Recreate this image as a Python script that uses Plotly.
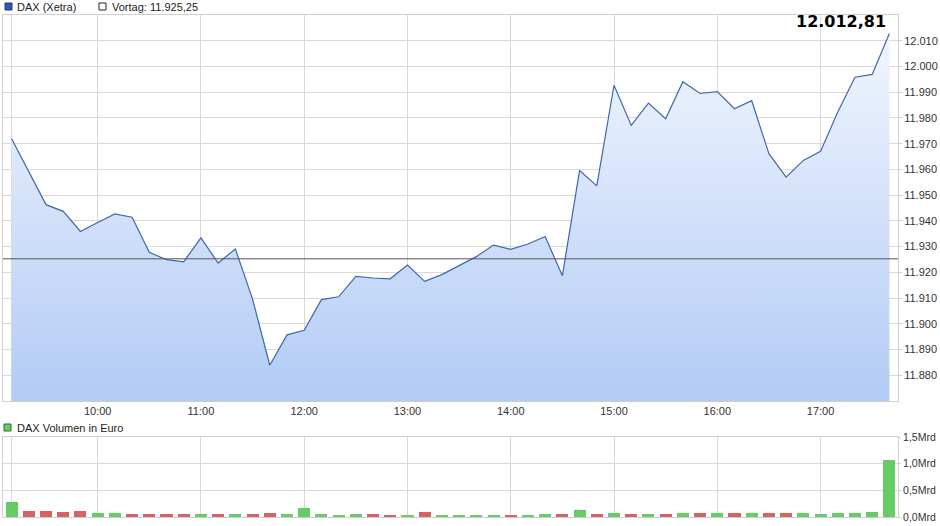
import plotly.graph_objects as go

DAY = "2019-07-03"
TIMES = ["09:10", "09:20", "09:30", "09:40", "09:50", "10:00", "10:10", "10:20", "10:30", "10:40",
         "10:50", "11:00", "11:10", "11:20", "11:30", "11:40", "11:50", "12:00", "12:10", "12:20",
         "12:30", "12:40", "12:50", "13:00", "13:10", "13:20", "13:30", "13:40", "13:50", "14:00",
         "14:10", "14:20", "14:30", "14:40", "14:50", "15:00", "15:10", "15:20", "15:30", "15:40",
         "15:50", "16:00", "16:10", "16:20", "16:30", "16:40", "16:50", "17:00", "17:10", "17:20",
         "17:30", "17:40"]
PRICE = [11971.9, 11958.8, 11946.3, 11943.7, 11935.9, 11939.4, 11942.7, 11941.4, 11927.8, 11924.9,
         11924.1, 11933.4, 11923.6, 11929.1, 11909.6, 11883.9, 11895.7, 11897.5, 11909.4, 11910.5,
         11918.4, 11917.8, 11917.5, 11922.8, 11916.5, 11919.1, 11922.6, 11926.1, 11930.6, 11928.9,
         11931.0, 11933.9, 11918.7, 11959.6, 11953.6, 11992.7, 11977.1, 11985.8, 11979.7, 11994.1,
         11989.5, 11990.2, 11983.6, 11986.7, 11966.1, 11957.0, 11963.5, 11967.0, 11982.3, 11995.8,
         11996.9, 12012.81]
VOLUME_MRD = [0.28, 0.107, 0.107, 0.088, 0.107, 0.069, 0.069, 0.05, 0.05, 0.05,
              0.05, 0.05, 0.05, 0.05, 0.05, 0.069, 0.05, 0.16, 0.05, 0.03,
              0.05, 0.05, 0.03, 0.03, 0.088, 0.03, 0.03, 0.03, 0.03, 0.025,
              0.025, 0.05, 0.055, 0.13, 0.05, 0.07, 0.05, 0.05, 0.05, 0.07,
              0.07, 0.07, 0.07, 0.07, 0.07, 0.07, 0.07, 0.05, 0.07, 0.07,
              0.09, 1.07]
VORTAG = 11925.25
X_TICK_TIMES = ["09:10", "10:00", "11:00", "12:00", "13:00", "14:00", "15:00", "16:00", "17:00"]
X_TICK_TEXT = ["", "10:00", "11:00", "12:00", "13:00", "14:00", "15:00", "16:00", "17:00"]
Y_TICKS = [11880, 11890, 11900, 11910, 11920, 11930, 11940, 11950, 11960, 11970,
           11980, 11990, 12000, 12010]
VOL_TICKS = [0.0, 0.5, 1.0, 1.5]
VOL_TICK_TEXT = ["0,0Mrd", "0,5Mrd", "1,0Mrd", "1,5Mrd"]

x = [f"{DAY} {t}" for t in TIMES]
prev = [VORTAG] + PRICE[:-1]
bar_colors = ["#66cc66" if p >= q else "#d46464" for p, q in zip(PRICE, prev)]


def de(v, nd=2):
    s = f"{v:,.{nd}f}"
    return s.replace(",", "X").replace(".", ",").replace("X", ".")


W, H = 940, 526
ML, MR, MT, MB = 3, 42, 15, 9
PW, PH = W - ML - MR, H - MT - MB


def px(xp):
    return (xp - ML) / PW


def py(yp):
    return (H - MB - yp) / PH


FONT = "Liberation Sans, Arial, sans-serif"
GRID = "#d9d9d9"
BORDER = "#cfcfcf"

fig = go.Figure()
fig.add_trace(go.Scatter(
    x=x, y=PRICE, mode="lines", xaxis="x", yaxis="y",
    line=dict(color="#3f66ad", width=1.2),
    fill="tozeroy",
    fillgradient=dict(type="vertical", start=11870, stop=12020,
                      colorscale=[[0, "#b2cbf5"], [1, "#f4f8fe"]]),
    hoverinfo="skip", showlegend=False,
))
fig.add_trace(go.Bar(
    x=x, y=VOLUME_MRD, xaxis="x2", yaxis="y2",
    marker=dict(color=bar_colors, line=dict(width=0)),
    width=7 * 60 * 1000, hoverinfo="skip", showlegend=False,
))

fig.add_shape(type="line", xref="x domain", yref="y", x0=0, x1=1, y0=VORTAG, y1=VORTAG,
              line=dict(color="#555555", width=1), layer="above")

axis_common = dict(showgrid=True, gridcolor=GRID, gridwidth=1, zeroline=False,
                   showline=True, mirror=True, linecolor=BORDER, linewidth=1)
tick_font = dict(family=FONT, size=11, color="#333333")

fig.update_layout(
    width=W, height=H,
    margin=dict(l=ML, r=MR, t=MT, b=MB, autoexpand=False),
    paper_bgcolor="white", plot_bgcolor="white",
    separators=",.",
    font=dict(family=FONT, size=11, color="#333333"),
    xaxis=dict(domain=[0, 1], anchor="y", type="date",
               range=[f"{DAY} 09:05", f"{DAY} 17:45"],
               tickvals=[f"{DAY} {t}" for t in X_TICK_TIMES], ticktext=X_TICK_TEXT,
               ticks="", tickfont=tick_font, **axis_common),
    yaxis=dict(domain=[py(401), 1], anchor="x", side="right", range=[11870, 12020],
               tickvals=Y_TICKS, tickformat=",d", ticks="outside", ticklen=3,
               tickcolor=BORDER, tickfont=tick_font, **axis_common),
    xaxis2=dict(domain=[0, 1], anchor="y2", type="date", matches="x",
                tickvals=[f"{DAY} {t}" for t in X_TICK_TIMES], ticktext=X_TICK_TEXT,
                showticklabels=False, ticks="", **axis_common),
    yaxis2=dict(domain=[0, py(437)], anchor="x2", side="right", range=[0, 1.5],
                tickvals=VOL_TICKS, ticktext=VOL_TICK_TEXT,
                ticks="outside", ticklen=2, tickcolor=BORDER,
                tickfont=dict(family=FONT, size=10.5, color="#333333"), **axis_common),
    bargap=0,
)

shapes = [
    dict(type="rect", xref="paper", yref="paper", x0=px(5), x1=px(12), y0=py(10), y1=py(3),
         fillcolor="#2b5bab", line=dict(color="#1d3d78", width=1)),
    dict(type="rect", xref="paper", yref="paper", x0=px(99), x1=px(106), y0=py(10), y1=py(3),
         fillcolor="white", line=dict(color="#222222", width=1)),
    dict(type="rect", xref="paper", yref="paper", x0=px(4), x1=px(11), y0=py(431), y1=py(424),
         fillcolor="#66cc66", line=dict(color="#2c6a2c", width=1)),
]
for s in shapes:
    fig.add_shape(**s)

ann = [
    dict(text="DAX (Xetra)", x=px(15), y=py(7)),
    dict(text=f"Vortag: {de(VORTAG)}", x=px(110), y=py(7)),
    dict(text="DAX Volumen in Euro", x=px(15), y=py(428)),
]
for a in ann:
    fig.add_annotation(xref="paper", yref="paper", xanchor="left", yanchor="middle",
                       showarrow=False, font=dict(family=FONT, size=11, color="#222222"), **a)

fig.add_annotation(text=f"<b>{de(PRICE[-1])}</b>", xref="paper", yref="paper",
                   x=px(888), y=py(22), xanchor="right", yanchor="middle", showarrow=False,
                   font=dict(family="DejaVu Sans, Verdana, sans-serif", size=16, color="#000000"))

fig.write_html("out.html", config={"displayModeBar": False},
               post_script="document.body.style.margin='0';document.body.style.overflow='hidden';")
